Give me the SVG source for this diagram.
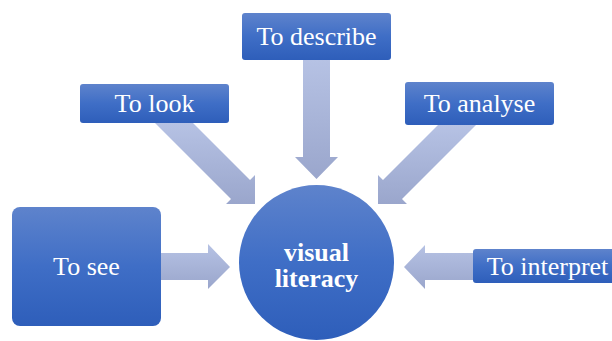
<svg xmlns="http://www.w3.org/2000/svg" width="612" height="341" viewBox="0 0 612 341">
  <defs>
    <linearGradient id="boxGrad" x1="0" y1="0" x2="0" y2="1">
      <stop offset="0" stop-color="#5e83cc"/>
      <stop offset="0.5" stop-color="#3f6ec6"/>
      <stop offset="1" stop-color="#2e5eba"/>
    </linearGradient>
    <linearGradient id="arrowGrad" x1="0" y1="0" x2="0" y2="1">
      <stop offset="0" stop-color="#b6c2e4"/>
      <stop offset="1" stop-color="#9aa6cc"/>
    </linearGradient>
    <style>
      .box { fill: url(#boxGrad); }
      .arrow { fill: url(#arrowGrad); }
      .lbl { font-family: "Liberation Serif", "Times New Roman", serif; font-size: 26px; fill: #ffffff; text-anchor: middle; }
      .center { font-family: "Liberation Serif", "Times New Roman", serif; font-size: 26px; font-weight: bold; fill: #ffffff; text-anchor: middle; }
    </style>
  </defs>
  <rect width="612" height="341" fill="#ffffff"/>
  <g id="connectors">
    <polygon class="arrow" points="161,253 208,253 208,244 230,267 208,289 208,280 161,280"/>
    <polygon class="arrow" points="473,253 425,253 425,245 404,267 425,289 425,280 473,280"/>
    <polygon class="arrow" points="303,60 330,60 330,157 338,157 316.5,179 295,157 303,157"/>
    <polygon class="arrow" points="155,123 193,123 250,180 255,175 255,204 226,204 231,199"/>
    <polygon class="arrow" points="438,125 476,125 402,199 407,204 378,204 378,175 383,180"/>
  </g>
  <g id="node-center">
    <circle class="box" cx="316.5" cy="262.5" r="77.5"/>
    <text class="center" x="316.5" y="261">visual</text>
    <text class="center" x="316.5" y="287">literacy</text>
  </g>
  <g id="node-see">
    <rect class="box" x="12" y="207" width="149" height="119" rx="8"/>
    <text class="lbl" x="86.5" y="275">To see</text>
  </g>
  <g id="node-look">
    <rect class="box" x="80" y="84" width="149" height="39" rx="3"/>
    <text class="lbl" x="154.5" y="112">To look</text>
  </g>
  <g id="node-describe">
    <rect class="box" x="242" y="13" width="149" height="47" rx="3"/>
    <text class="lbl" x="316.5" y="45">To describe</text>
  </g>
  <g id="node-analyse">
    <rect class="box" x="405" y="82" width="149" height="43" rx="3"/>
    <text class="lbl" x="479.5" y="112">To analyse</text>
  </g>
  <g id="node-interpret">
    <rect class="box" x="473" y="249" width="149" height="34" rx="3"/>
    <text class="lbl" x="547.5" y="275">To interpret</text>
  </g>
</svg>
